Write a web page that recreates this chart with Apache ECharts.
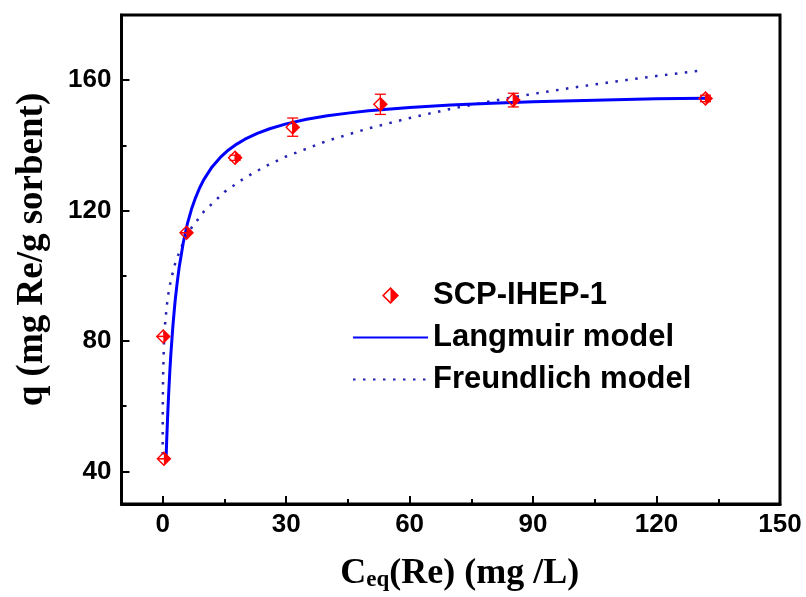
<!DOCTYPE html>
<html>
<head>
<meta charset="utf-8">
<script src="https://cdn.jsdelivr.net/npm/echarts@6/dist/echarts.min.js"></script>
<style>html,body{margin:0;padding:0;background:#fff;}#c{width:806px;height:597px;}</style>
</head>
<body>
<div id="c"></div>
<script>
const ceq  = [0.3, 0.15, 5.8, 17.6, 31.6, 52.9, 85.2, 131.9];
const qExp = [43.9, 81.4, 113.2, 136.2, 145.6, 152.6, 153.9, 154.4];
const qErr = [0, 0, 0, 0.8, 2.8, 3.1, 2.1, 1.0];
// Langmuir model curve
const langC = [0.8, 1, 1.25, 1.5, 1.75, 2, 2.5, 3, 3.5, 4, 5, 6, 7, 8, 9, 10, 12, 14, 16, 18, 20, 23, 26, 30, 35, 40, 45, 50, 60, 70, 80, 90, 100, 110, 120, 131.9];
const langQ = [42.9, 50.2, 58.1, 64.9, 70.9, 76.1, 84.8, 91.9, 97.6, 102.5, 110.1, 115.9, 120.4, 124.0, 127.0, 129.5, 133.4, 136.3, 138.6, 140.4, 141.9, 143.7, 145.1, 146.6, 148.0, 149.1, 149.9, 150.6, 151.6, 152.4, 152.9, 153.4, 153.7, 154.0, 154.3, 154.5];
// Freundlich model curve
const freC = [0.003, 0.01, 0.03, 0.1, 0.3, 0.6, 1, 1.5, 2, 3, 4, 5, 7, 10, 15, 20, 25, 30, 40, 50, 60, 70, 80, 90, 100, 110, 120, 131];
const freQ = [45.2, 52.2, 59.6, 68.9, 78.6, 85.4, 90.8, 95.4, 98.7, 103.6, 107.2, 110.1, 114.7, 119.7, 125.7, 130.1, 133.6, 136.6, 141.4, 145.2, 148.4, 151.2, 153.6, 155.8, 157.8, 159.6, 161.3, 163.0];
// Axis ticks
const xTicks = [0, 30, 60, 90, 120, 150];
const xMinorTicks = [15, 45, 75, 105, 135];
const yTicks = [40, 80, 120, 160];
const yMinorTicks = [60, 100, 140];
const seriesNames = ['SCP-IHEP-1', 'Langmuir model', 'Freundlich model'];

const markerPath = 'path://M10,0L0,10L10,20L20,10Z M10,2.6L10,17.4L2.6,10Z';
const sans = 'Liberation Sans';
const serif = 'Liberation Serif';

const expData = ceq.map((c, i) => [c, qExp[i]]);
const errData = ceq.map((c, i) => [c, qExp[i], qErr[i]]);
const langData = langC.map((c, i) => [c, langQ[i]]);
const freData = freC.map((c, i) => [c, freQ[i]]);

const chart = echarts.init(document.getElementById('c'), null, {renderer: 'canvas'});

const majorAxisX = {
  type: 'value', min: -10, max: 150, position: 'bottom', offset: 0,
  axisLine: {show: true, onZero: false, lineStyle: {color: '#000', width: 3}},
  axisTick: {show: true, inside: true, length: 8, lineStyle: {color: '#000', width: 2}, customValues: xTicks},
  axisLabel: {show: true, customValues: xTicks, margin: 8, color: '#000', fontFamily: sans, fontWeight: 'bold', fontSize: 26},
  splitLine: {show: false},
  name: '{a|C}{b|eq}{a|(Re) (mg /L)}',
  nameLocation: 'middle', nameGap: 52,
  nameTextStyle: {
    padding: [0, 0, 0, 18],
    rich: {
      a: {fontFamily: serif, fontWeight: 'bold', fontSize: 36, color: '#000'},
      b: {fontFamily: serif, fontWeight: 'bold', fontSize: 23, color: '#000', padding: [12, 0, 0, 0]}
    }
  }
};
const minorAxisX = {
  type: 'value', min: -10, max: 150, position: 'bottom', offset: 0,
  axisLine: {show: false, onZero: false},
  axisTick: {show: true, inside: true, length: 5, lineStyle: {color: '#000', width: 2}, customValues: xMinorTicks},
  axisLabel: {show: false},
  splitLine: {show: false}
};
const majorAxisY = {
  type: 'value', min: 30, max: 180, position: 'left', offset: 0,
  axisLine: {show: true, onZero: false, lineStyle: {color: '#000', width: 3}},
  axisTick: {show: true, inside: true, length: 8, lineStyle: {color: '#000', width: 2}, customValues: yTicks},
  axisLabel: {show: true, customValues: yTicks, margin: 10, color: '#000', fontFamily: sans, fontWeight: 'bold', fontSize: 26},
  splitLine: {show: false},
  name: 'q (mg Re/g sorbent)',
  nameLocation: 'middle', nameGap: 71, nameRotate: 90,
  nameTextStyle: {fontFamily: serif, fontWeight: 'bold', fontSize: 37, color: '#000', padding: [0, 0, 0, 20]}
};
const minorAxisY = {
  type: 'value', min: 30, max: 180, position: 'left', offset: 0,
  axisLine: {show: false, onZero: false},
  axisTick: {show: true, inside: true, length: 5, lineStyle: {color: '#000', width: 2}, customValues: yMinorTicks},
  axisLabel: {show: false},
  splitLine: {show: false}
};

chart.setOption({
  animation: false,
  backgroundColor: '#fff',
  grid: {left: 121.5, top: 15, right: 26, bottom: 91, show: true, borderColor: '#000', borderWidth: 3, backgroundColor: 'transparent'},
  xAxis: [majorAxisX, minorAxisX],
  yAxis: [majorAxisY, minorAxisY],
  legend: {
    orient: 'vertical', left: 352, top: 280, padding: 0,
    itemWidth: 75, itemHeight: 17, itemGap: 11, itemTextGap: 12,
    textStyle: {fontFamily: sans, fontWeight: 'bold', fontSize: 31, color: '#000'},
    data: [
      {name: seriesNames[0], icon: markerPath},
      {name: seriesNames[1], itemStyle: {opacity: 0}},
      {name: seriesNames[2], itemStyle: {opacity: 0}}
    ]
  },
  series: [
    {
      name: seriesNames[2], type: 'line', data: freData, symbol: 'none',
      lineStyle: {color: '#2222b4', width: 2.5, type: [2.5, 7.5], cap: 'butt'},
      itemStyle: {color: '#2222b4'}, z: 2
    },
    {
      name: seriesNames[1], type: 'line', data: langData, symbol: 'none',
      lineStyle: {color: '#0000ff', width: 3},
      itemStyle: {color: '#0000ff'}, z: 3
    },
    {
      name: 'error', type: 'custom', data: errData, z: 4,
      renderItem: function (params, api) {
        const x = api.value(0), y = api.value(1), e = api.value(2);
        const top = api.coord([x, y + e]);
        const bot = api.coord([x, y - e]);
        const hw = 5.5;
        const st = {stroke: '#ff0000', lineWidth: 1.3};
        return {
          type: 'group',
          children: [
            {type: 'line', shape: {x1: top[0], y1: top[1], x2: bot[0], y2: bot[1]}, style: st},
            {type: 'line', shape: {x1: top[0] - hw, y1: top[1], x2: top[0] + hw, y2: top[1]}, style: st},
            {type: 'line', shape: {x1: bot[0] - hw, y1: bot[1], x2: bot[0] + hw, y2: bot[1]}, style: st}
          ]
        };
      }
    },
    {
      name: seriesNames[0], type: 'scatter', data: expData,
      symbol: markerPath, symbolSize: 15,
      itemStyle: {color: '#ff0000', opacity: 1}, z: 5
    }
  ]
});
</script>
</body>
</html>
